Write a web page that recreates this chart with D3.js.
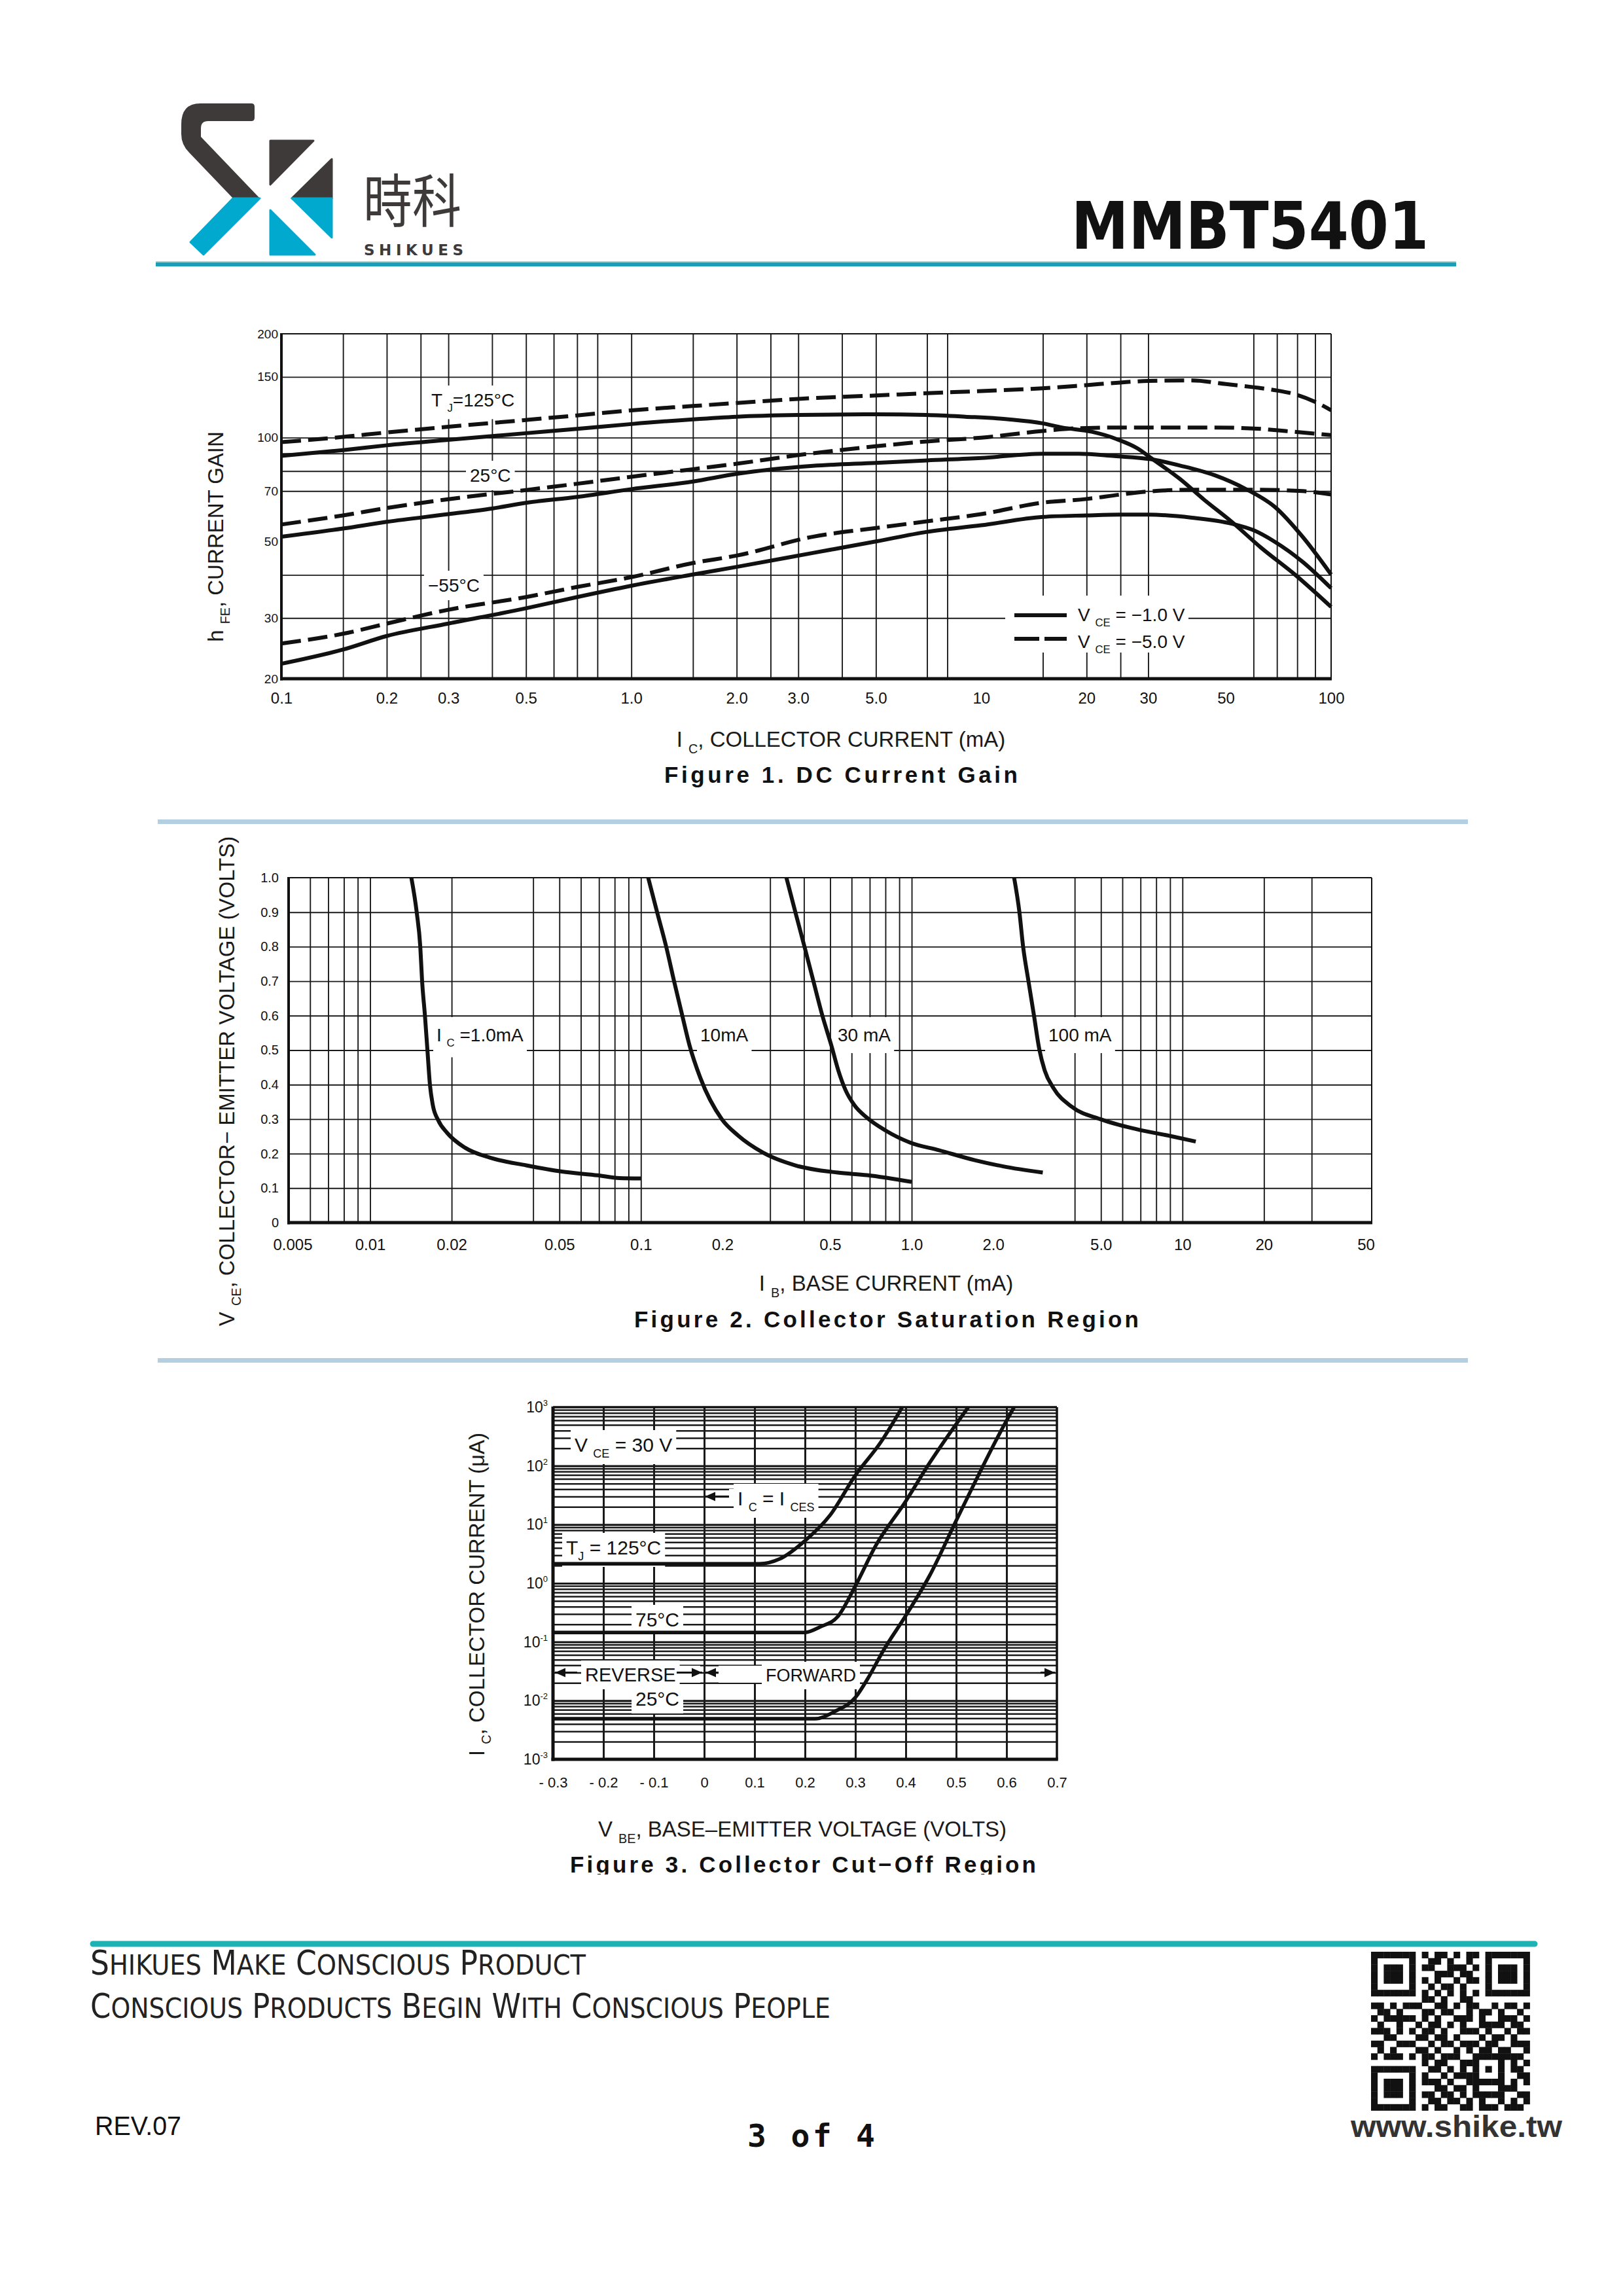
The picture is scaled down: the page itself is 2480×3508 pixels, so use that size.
<!DOCTYPE html>
<html><head><meta charset="utf-8">
<script src="https://cdn.jsdelivr.net/npm/d3@7"></script>
<style>html,body{margin:0;padding:0;background:#fff}svg text{white-space:pre}</style>
</head><body>
<script>
// ===================== DATA =====================
// Figure 1: DC current gain  [Ic (mA), hFE]
const gain125_5V = [[0.1,97],[0.15,100.5],[0.2,103.5],[0.3,107.5],[0.5,112.5],[0.7,116],[1,120],[1.5,123.5],[2,126],[3,129.5],[5,132.5],[7,134.5],[10,136.5],[15,139],[20,142],[25,144.5],[30,146],[40,146.5],[50,143],[60,140],[70,137],[80,133],[90,127],[100,120]];
const gain125_1V = [[0.1,88.5],[0.15,92],[0.2,95],[0.3,98.5],[0.5,103],[0.7,106],[1,109.5],[1.5,113],[2,115],[3,116.3],[5,116.8],[7,116.3],[9,115],[12,113],[15,110],[17,107],[20.7,104],[24.4,99],[28,93],[30.7,87],[36.9,76],[43.4,66],[52,57],[63,48],[79,40],[100,32.3]];
const gain25_5V = [[0.1,56],[0.15,59.5],[0.2,62.5],[0.3,66.3],[0.5,70.5],[0.7,73.5],[1,77],[1.5,81],[2,84],[3,89],[5,94.4],[7,97.5],[10,100],[15,104.5],[19,106.5],[25,107],[33,107],[46,107],[60,106.3],[74,104.5],[100,101.7]];
const gain25_1V = [[0.1,51.6],[0.15,54.5],[0.2,57],[0.3,60],[0.4,62.3],[0.5,64.7],[0.7,67.3],[1,70.9],[1.5,74.6],[2,78.5],[3.3,82.8],[5,84.5],[7,85.9],[10,87.3],[15,89.8],[19,89.8],[24,88.4],[30.5,86.6],[37,83],[46.5,77.8],[57,71],[69,63],[83,51.5],[100,40.1]];
const gainM55_5V = [[0.1,25.3],[0.15,27],[0.2,28.9],[0.3,31.7],[0.5,34.5],[0.7,36.9],[1,39.4],[1.5,43.3],[2,45.5],[3.3,51.6],[5,54.7],[7,57.2],[10,60],[15,64.8],[20,66.4],[25,68.4],[30,69.8],[40,70.6],[60,70.6],[83,70],[100,68.4]];
const gainM55_1V = [[0.1,22.1],[0.15,24.3],[0.2,26.6],[0.3,28.9],[0.5,32],[0.7,34.5],[1,37.2],[1.5,40.1],[2,42.2],[3.3,46.3],[5,50],[7,53.3],[10,55.7],[15,58.9],[20,59.5],[25,59.8],[30,59.8],[40,58.6],[52,56.3],[60,53.9],[69,49.9],[83,43.6],[100,36.6]];
const fig1TickX = [0.1,0.2,0.3,0.5,1,2,3,5,10,20,30,50,100];
const fig1TickXLabels = ["0.1","0.2","0.3","0.5","1.0","2.0","3.0","5.0","10","20","30","50","100"];
const fig1TickY = [20,30,50,70,100,150,200];
const fig1GridX = [0.15,0.2,0.25,0.3,0.4,0.5,0.6,0.7,0.8,1,1.5,2,2.5,3,4,5,7,8,15,20,25,30,60,70,80,90];
const fig1GridY = [30,40,70,80,90,100,150];

// Figure 2: collector saturation region [Ib (mA), Vce (V)]
const vce1mA = [[0.0142,1.0],[0.01486,0.9],[0.01532,0.8],[0.01556,0.7],[0.01594,0.6],[0.01628,0.5],[0.01663,0.4],[0.01705,0.34],[0.01784,0.297],[0.01926,0.26],[0.02243,0.217],[0.02777,0.188],[0.03771,0.166],[0.0511,0.148],[0.0694,0.137],[0.0834,0.129],[0.1,0.128]];
const vce10mA = [[0.1064,1.0],[0.1148,0.9],[0.124,0.8],[0.1326,0.7],[0.1422,0.6],[0.1512,0.514],[0.1657,0.42],[0.199,0.30],[0.2283,0.253],[0.2827,0.203],[0.372,0.166],[0.533,0.145],[0.684,0.1375],[1.0,0.118]];
const vce30mA = [[0.3447,1.0],[0.372,0.9],[0.402,0.8],[0.4336,0.7],[0.468,0.6],[0.505,0.514],[0.536,0.441],[0.57,0.384],[0.615,0.34],[0.684,0.304],[0.797,0.268],[0.987,0.232],[1.26,0.21],[1.71,0.181],[2.18,0.163],[3.05,0.145]];
const vce100mA = [[2.39,1.0],[2.5,0.9],[2.58,0.8],[2.7,0.7],[2.83,0.6],[2.96,0.503],[3.10,0.441],[3.34,0.39],[3.90,0.336],[4.97,0.30],[6.75,0.271],[9.16,0.25],[11.2,0.235]];
const fig2TickX = [0.005,0.01,0.02,0.05,0.1,0.2,0.5,1,2,5,10,20,50];
const fig2TickXLabels = ["0.005","0.01","0.02","0.05","0.1","0.2","0.5","1.0","2.0","5.0","10","20","50"];
const fig2TickY = [0,0.1,0.2,0.3,0.4,0.5,0.6,0.7,0.8,0.9,1.0];
const fig2TickYLabels = ["0","0.1","0.2","0.3","0.4","0.5","0.6","0.7","0.8","0.9","1.0"];
const fig2GridX = [0.006,0.007,0.008,0.009,0.01,0.02,0.04,0.05,0.06,0.07,0.08,0.09,0.1,0.3,0.4,0.5,0.6,0.7,0.8,0.9,1,4,5,6,7,8,9,10,20,30];
const fig2GridY = [0.1,0.2,0.3,0.4,0.5,0.6,0.7,0.8,0.9];

// Figure 3: collector cut-off region [Vbe (V), Ic (uA)]
const ic125 = [[-0.3,2.15],[0.11,2.15],[0.15,2.6],[0.2,5.3],[0.25,14.5],[0.3,69],[0.35,250],[0.393,1000]];
const ic75 = [[-0.3,0.145],[0.2,0.145],[0.23,0.18],[0.265,0.27],[0.3,0.9],[0.34,4.3],[0.4,25],[0.447,111],[0.524,1000]];
const ic25 = [[-0.3,0.0049],[0.22,0.0049],[0.26,0.0066],[0.3,0.0113],[0.325,0.024],[0.355,0.07],[0.4,0.28],[0.447,1.33],[0.5,11.6],[0.6,590],[0.615,1000]];
const fig3TickX = [-0.3,-0.2,-0.1,0,0.1,0.2,0.3,0.4,0.5,0.6,0.7];
const fig3TickXLabels = ["- 0.3","- 0.2","- 0.1","0","0.1","0.2","0.3","0.4","0.5","0.6","0.7"];
const fig3TickY = [1e-3,1e-2,1e-1,1,10,100,1000];
const fig3TickYExp = ["-3","-2","-1","0","1","2","3"];
const fig3GridX = [-0.2,-0.1,0,0.1,0.2,0.3,0.4,0.5,0.6];
const fig3Mantissas = [1,2,3,4,5,6,7,8,9];
const fig3Decades = [-3,-2,-1,0,1,2];

// ===================== SETUP =====================
const W=2480,H=3508;
const svg=d3.select('body').append('svg').attr('width',W).attr('height',H).attr('viewBox',`0 0 ${W} ${H}`);
svg.append('rect').attr('width',W).attr('height',H).attr('fill','#fff');
const SANS="'Liberation Sans',Arial,Helvetica,sans-serif";
const NARROW="'Liberation Sans Narrow','Arial Narrow','Liberation Sans',sans-serif";
const INK='#111';

function rich(g,x,y,parts,o){
  const fs=o.size;
  const t=g.append('text').attr('x',x).attr('y',y).attr('font-family',o.family||SANS)
    .attr('font-size',fs).attr('fill',o.fill||INK).attr('text-anchor',o.anchor||'start');
  if(o.weight) t.attr('font-weight',o.weight);
  let shift=0;
  parts.forEach(p=>{
    const s=Array.isArray(p)?p[0]:p, k=Array.isArray(p)?p[1]:'n';
    const target = k==='sub'? fs*0.3 : (k==='sup'? -fs*0.45 : 0);
    const ts=t.append('tspan').text(s);
    if(target-shift!==0) ts.attr('dy',target-shift);
    shift=target;
    if(k!=='n') ts.attr('font-size',fs*0.6);
  });
  return t;
}
function boxBehind(boxG,t,px,py){
  const b=t.node().getBBox();
  boxG.append('rect').attr('x',b.x-px).attr('y',b.y-py).attr('width',b.width+2*px).attr('height',b.height+2*py).attr('fill','#fff');
}
function vTitle(x,y,parts,size){
  const g=svg.append('g').attr('transform',`translate(${x},${y}) rotate(-90)`);
  rich(g,0,0,parts,{size:size,anchor:'middle',fill:'#1a1a1a'});
}
function styleAxis(s,family,size){
  s.select('.domain').remove();
  s.attr('font-family',family).attr('font-size',size);
  s.selectAll('text').attr('fill',INK);
}
function gridLines(s,w){
  s.select('.domain').remove();
  s.selectAll('line').attr('stroke','#1a1a1a').attr('stroke-width',w);
}
function frame(g,F,wl,wb,wt,wr){
  g.append('line').attr('x1',F.x0).attr('x2',F.x1).attr('y1',F.y0).attr('y2',F.y0).attr('stroke',INK).attr('stroke-width',wt);
  g.append('line').attr('x1',F.x1).attr('x2',F.x1).attr('y1',F.y0).attr('y2',F.y1).attr('stroke',INK).attr('stroke-width',wr);
  g.append('line').attr('x1',F.x0).attr('x2',F.x0).attr('y1',F.y0-1).attr('y2',F.y1+wb/2).attr('stroke',INK).attr('stroke-width',wl);
  g.append('line').attr('x1',F.x0-wl/2).attr('x2',F.x1+wr/2).attr('y1',F.y1).attr('y2',F.y1).attr('stroke',INK).attr('stroke-width',wb);
}

// ===================== HEADER =====================
const DARK='#3e3a39', BLUE='#00a9cd';
const logo=svg.append('g').attr('stroke-linejoin','round');
logo.append('path').attr('d','M306,158 L384,158 Q389,158 389,163 L389,180 Q389,185 384,185 L318,185 Q307,185 307,196 L307,209 L397,303 L356,303 L289,233 Q277,221 277,205 L277,190 Q277,158 306,158 Z').attr('fill',DARK);
logo.append('path').attr('d','M356,303 L397,303 L311,389 L291,370 Z').attr('fill',BLUE).attr('stroke',BLUE).attr('stroke-width',3);
logo.append('path').attr('d','M413,215 L479,215 L413,282 Z').attr('fill',DARK).attr('stroke',DARK).attr('stroke-width',3);
logo.append('path').attr('d','M507,243 L507,303 L446,303 Z').attr('fill',DARK).attr('stroke',DARK).attr('stroke-width',3);
logo.append('path').attr('d','M446,303 L507,303 L507,363 Z').attr('fill',BLUE).attr('stroke',BLUE).attr('stroke-width',3);
logo.append('path').attr('d','M413,321 L413,389 L481,389 Z').attr('fill',BLUE).attr('stroke',BLUE).attr('stroke-width',3);
svg.append('text').attr('x',555).attr('y',339).attr('font-family',"'Noto Sans CJK TC','Noto Sans CJK SC',sans-serif")
  .attr('font-size',88).attr('font-weight',400).attr('fill',DARK).attr('textLength',150).attr('lengthAdjust','spacingAndGlyphs').text('時科');
svg.append('text').attr('x',556).attr('y',390).attr('font-family',"'DejaVu Sans',sans-serif").attr('font-weight','bold')
  .attr('font-size',23).attr('fill',DARK).attr('textLength',152).attr('lengthAdjust','spacing').text('SHIKUES');
svg.append('text').attr('x',1637).attr('y',380).attr('font-family',"'DejaVu Sans',sans-serif").attr('font-weight','bold')
  .attr('font-size',100).attr('fill',INK).attr('textLength',546).attr('lengthAdjust','spacingAndGlyphs').text('MMBT5401');
svg.append('rect').attr('x',238).attr('y',399).attr('width',1987).attr('height',3).attr('fill','#9ad6e0');
svg.append('rect').attr('x',238).attr('y',401).attr('width',1987).attr('height',6).attr('fill','#1a9fb6');

// separators
svg.append('rect').attr('x',241).attr('y',1252).attr('width',2002).attr('height',7).attr('fill','#b5cfe2');
svg.append('rect').attr('x',241).attr('y',2075).attr('width',2002).attr('height',7).attr('fill','#b5cfe2');

// ===================== FIGURE 1 =====================
{
const F={x0:430,x1:2034,y0:510,y1:1037};
const x=d3.scaleLog().domain([0.1,100]).range([F.x0,F.x1]);
const y=d3.scaleLog().domain([20,200]).range([F.y1,F.y0]);
const g=svg.append('g');
const gGrid=g.append('g'), gBox=g.append('g'), gCurve=g.append('g'), gLab=g.append('g'), gFrame=g.append('g');
gGrid.append('g').attr('transform',`translate(0,${F.y1})`)
  .call(d3.axisBottom(x).tickValues(fig1GridX).tickSize(-(F.y1-F.y0)).tickFormat(''))
  .call(s=>gridLines(s,1.9));
gGrid.append('g').attr('transform',`translate(${F.x0},0)`)
  .call(d3.axisLeft(y).tickValues(fig1GridY).tickSize(-(F.x1-F.x0)).tickFormat(''))
  .call(s=>gridLines(s,1.9));
gLab.append('g').attr('transform',`translate(0,${F.y1})`)
  .call(d3.axisBottom(x).tickValues(fig1TickX).tickFormat((d,i)=>fig1TickXLabels[i]).tickSize(0).tickPadding(21))
  .call(s=>styleAxis(s,NARROW,24));
gLab.append('g').attr('transform',`translate(${F.x0},0)`)
  .call(d3.axisLeft(y).tickValues(fig1TickY).tickFormat(d=>String(d)).tickSize(0).tickPadding(5))
  .call(s=>styleAxis(s,NARROW,19));
// curve labels
const l1=rich(gLab,659,621,['T ',['J','sub'],'=125°C'],{size:28});
const l2=rich(gLab,718,736,['25°C'],{size:28});
const l3=rich(gLab,654,904,['−55°C'],{size:28});
[l1,l2,l3].forEach(t=>boxBehind(gBox,t,6,7));
// legend
gBox.append('rect').attr('x',1536).attr('y',910).attr('width',280).attr('height',87).attr('fill','#fff');
gLab.append('line').attr('x1',1550).attr('x2',1630).attr('y1',940).attr('y2',940).attr('stroke',INK).attr('stroke-width',6);
gLab.append('line').attr('x1',1550).attr('x2',1630).attr('y1',976).attr('y2',976).attr('stroke',INK).attr('stroke-width',6).attr('stroke-dasharray','38 8');
rich(gLab,1647,949,['V ',['CE','sub'],' = −1.0 V'],{size:28});
rich(gLab,1647,990,['V ',['CE','sub'],' = −5.0 V'],{size:28});
// curves
const line=d3.line().x(d=>x(d[0])).y(d=>y(d[1])).curve(d3.curveMonotoneX);
[[gain125_5V,true],[gain125_1V,false],[gain25_5V,true],[gain25_1V,false],[gainM55_5V,true],[gainM55_1V,false]].forEach(([data,dashed])=>{
  gCurve.append('path').attr('d',line(data)).attr('fill','none').attr('stroke',INK).attr('stroke-width',6)
    .attr('stroke-dasharray',dashed?'30 11':null);
});
frame(gFrame,F,4,5,2,2);
rich(svg,1285,1141,['I ',['C','sub'],', COLLECTOR CURRENT (mA)'],{size:33,anchor:'middle',fill:'#1a1a1a'});
vTitle(341,820,['h ',['FE','sub'],', CURRENT GAIN'],33);
svg.append('text').attr('x',1015).attr('y',1196).attr('font-family',SANS).attr('font-weight','bold').attr('font-size',35)
  .attr('fill',INK).attr('textLength',540).attr('lengthAdjust','spacing').text('Figure 1. DC Current Gain');
}

// ===================== FIGURE 2 =====================
{
const F={x0:441,x1:2096,y0:1341,y1:1868};
const x=d3.scaleLog().domain([0.005,50]).range([F.x0,F.x1]);
const y=d3.scaleLinear().domain([0,1]).range([F.y1,F.y0]);
const g=svg.append('g');
const gGrid=g.append('g'), gBox=g.append('g'), gCurve=g.append('g'), gLab=g.append('g'), gFrame=g.append('g');
gGrid.append('g').attr('transform',`translate(0,${F.y1})`)
  .call(d3.axisBottom(x).tickValues(fig2GridX).tickSize(-(F.y1-F.y0)).tickFormat(''))
  .call(s=>gridLines(s,1.9));
gGrid.append('g').attr('transform',`translate(${F.x0},0)`)
  .call(d3.axisLeft(y).tickValues(fig2GridY).tickSize(-(F.x1-F.x0)).tickFormat(''))
  .call(s=>gridLines(s,1.9));
gLab.append('g').attr('transform',`translate(0,${F.y1})`)
  .call(d3.axisBottom(x).tickValues(fig2TickX).tickFormat((d,i)=>fig2TickXLabels[i]).tickSize(0).tickPadding(25))
  .call(s=>styleAxis(s,NARROW,24))
  .call(s=>{s.selectAll('.tick text').attr('dx',(d,i)=>i===0?6:(i===fig2TickX.length-1?-9:0));});
gLab.append('g').attr('transform',`translate(${F.x0},0)`)
  .call(d3.axisLeft(y).tickValues(fig2TickY).tickFormat((d,i)=>fig2TickYLabels[i]).tickSize(0).tickPadding(15))
  .call(s=>styleAxis(s,NARROW,20));
const labs=[
  rich(gLab,667,1591,['I ',['C','sub'],' =1.0mA'],{size:28}),
  rich(gLab,1070,1591,['10mA'],{size:28}),
  rich(gLab,1280,1591,['30 mA'],{size:28}),
  rich(gLab,1602,1591,['100 mA'],{size:28})
];
labs.forEach(t=>boxBehind(gBox,t,5,12));
const line=d3.line().x(d=>x(d[0])).y(d=>y(d[1])).curve(d3.curveMonotoneX);
[vce1mA,vce10mA,vce30mA,vce100mA].forEach(data=>{
  gCurve.append('path').attr('d',line(data)).attr('fill','none').attr('stroke',INK).attr('stroke-width',6).attr('stroke-linecap','butt');
});
frame(gFrame,F,4,5,2,2);
rich(svg,1354,1972,['I ',['B','sub'],', BASE CURRENT (mA)'],{size:33,anchor:'middle',fill:'#1a1a1a'});
vTitle(358,1652,['V ',['CE','sub'],', COLLECTOR− EMITTER VOLTAGE (VOLTS)'],33);
svg.append('text').attr('x',969).attr('y',2028).attr('font-family',SANS).attr('font-weight','bold').attr('font-size',35)
  .attr('fill',INK).attr('textLength',771).attr('lengthAdjust','spacing').text('Figure 2. Collector Saturation Region');
}

// ===================== FIGURE 3 =====================
{
const F={x0:845,x1:1615,y0:2150,y1:2688};
const x=d3.scaleLinear().domain([-0.3,0.7]).range([F.x0,F.x1]);
const y=d3.scaleLog().domain([1e-3,1e3]).range([F.y1,F.y0]);
const g=svg.append('g');
const gGrid=g.append('g'), gBox=g.append('g'), gCurve=g.append('g'), gLab=g.append('g'), gFrame=g.append('g');
const minor=[], major=[];
fig3Decades.forEach(e=>fig3Mantissas.forEach(m=>{const v=m*Math.pow(10,e); if(v>1e-3){(m===1?major:minor).push(v);}}));
gGrid.append('g').attr('transform',`translate(${F.x0},0)`)
  .call(d3.axisLeft(y).tickValues(minor).tickSize(-(F.x1-F.x0)).tickFormat(''))
  .call(s=>gridLines(s,2.5));
gGrid.append('g').attr('transform',`translate(${F.x0},0)`)
  .call(d3.axisLeft(y).tickValues(major).tickSize(-(F.x1-F.x0)).tickFormat(''))
  .call(s=>gridLines(s,3.2));
gGrid.append('g').attr('transform',`translate(0,${F.y1})`)
  .call(d3.axisBottom(x).tickValues(fig3GridX).tickSize(-(F.y1-F.y0)).tickFormat(''))
  .call(s=>gridLines(s,3));
gLab.append('g').attr('transform',`translate(0,${F.y1})`)
  .call(d3.axisBottom(x).tickValues(fig3TickX).tickFormat((d,i)=>fig3TickXLabels[i]).tickSize(0).tickPadding(27))
  .call(s=>styleAxis(s,SANS,22));
gLab.append('g').attr('transform',`translate(${F.x0},0)`)
  .call(d3.axisLeft(y).tickValues(fig3TickY).tickFormat(()=>'').tickSize(0).tickPadding(8))
  .call(s=>styleAxis(s,SANS,23))
  .call(s=>s.selectAll('.tick text').each(function(d,i){
    const t=d3.select(this);
    t.append('tspan').text('10');
    t.append('tspan').attr('font-size',13).attr('dy',-10).text(fig3TickYExp[i]);
  }));
const labs=[
  rich(gLab,878,2218,['V ',['CE','sub'],' = 30 V'],{size:30}),
  rich(gLab,1127,2300,['I ',['C','sub'],' = I ',['CES','sub']],{size:30}),
  rich(gLab,865,2375,['T',['J','sub'],' = 125°C'],{size:30}),
  rich(gLab,971,2485,['75°C'],{size:30}),
  rich(gLab,894,2569,['REVERSE'],{size:29}),
  rich(gLab,1170,2569,['FORWARD'],{size:27,family:NARROW}),
  rich(gLab,971,2606,['25°C'],{size:30})
];
labs.forEach(t=>boxBehind(gBox,t,6,6));
gBox.append('rect').attr('x',1098).attr('y',2545).attr('width',70).attr('height',26).attr('fill','#fff');
gBox.append('rect').attr('x',1034).attr('y',2545).attr('width',36).attr('height',26).attr('fill','#fff');
gBox.append('rect').attr('x',1114).attr('y',2275).attr('width',14).attr('height',26).attr('fill','#fff');
// arrows
function arrow(x1,x2,yy){
  gLab.append('line').attr('x1',x1).attr('x2',x2).attr('y1',yy).attr('y2',yy).attr('stroke',INK).attr('stroke-width',3);
  const dir=Math.sign(x2-x1);
  gLab.append('path').attr('d',`M${x2},${yy} L${x2-dir*16},${yy-7} L${x2-dir*16},${yy+7} Z`).attr('fill',INK);
}
const ay=y(0.03);
arrow(882,848,ay); arrow(1034,1073,ay); arrow(1098,1078,ay); arrow(1590,1612,ay);
arrow(1114,1077,y(30));
const line=d3.line().x(d=>x(d[0])).y(d=>y(d[1])).curve(d3.curveMonotoneX);
[ic125,ic75,ic25].forEach(data=>{
  gCurve.append('path').attr('d',line(data)).attr('fill','none').attr('stroke',INK).attr('stroke-width',5.5);
});
frame(gFrame,F,5,5,3.5,3.5);
rich(svg,1226,2806,['V ',['BE','sub'],', BASE–EMITTER VOLTAGE (VOLTS)'],{size:33,anchor:'middle',fill:'#1a1a1a'});
vTitle(740,2436,['I ',['C','sub'],', COLLECTOR CURRENT (μA)'],33);
svg.append('clipPath').attr('id','capclip').append('rect').attr('x',0).attr('y',2800).attr('width',W).attr('height',64);
svg.append('text').attr('clip-path','url(#capclip)').attr('x',871).attr('y',2861).attr('font-family',SANS).attr('font-weight','bold').attr('font-size',35)
  .attr('fill',INK).attr('textLength',712).attr('lengthAdjust','spacing').text('Figure 3. Collector Cut−Off Region');
}

// ===================== FOOTER =====================
svg.append('line').attr('x1',142).attr('x2',2345).attr('y1',2970).attr('y2',2970).attr('stroke','#1eb2b5').attr('stroke-width',9).attr('stroke-linecap','round');
const FOOT="'Liberation Sans Narrow','DejaVu Sans Condensed',sans-serif";
function smallCaps(xx,yy,str,big,small,len){
  const t=svg.append('text').attr('x',xx).attr('y',yy).attr('font-family',FOOT).attr('fill','#222')
    .attr('textLength',len).attr('lengthAdjust','spacingAndGlyphs');
  str.split(' ').forEach((w,i)=>{
    t.append('tspan').attr('font-size',big).text((i?' ':'')+w[0]);
    t.append('tspan').attr('font-size',small).text(w.slice(1).toUpperCase());
  });
}
smallCaps(138,3017,'Shikues Make Conscious Product',51,43,757);
smallCaps(138,3083,'Conscious Products Begin With Conscious People',51,43,1131);
svg.append('text').attr('x',145).attr('y',3262).attr('font-family',SANS).attr('font-size',40).attr('fill',INK)
  .attr('textLength',132).attr('lengthAdjust','spacingAndGlyphs').text('REV.07');
svg.append('text').attr('x',1142).attr('y',3280).attr('font-family',"'DejaVu Sans Mono',monospace").attr('font-weight','bold').attr('font-size',48).attr('fill',INK)
  .attr('textLength',195).attr('lengthAdjust','spacing').text('3 of 4');
svg.append('text').attr('x',2064).attr('y',3265).attr('font-family',SANS).attr('font-weight','bold').attr('font-size',46).attr('fill','#333')
  .attr('textLength',323).attr('lengthAdjust','spacingAndGlyphs').text('www.shike.tw');
// QR code
const qrRows=[
"1111111010110101101111111","1000001001101001001000001","1011101011001110101011101","1011101000111011001011101",
"1011101010100101101011101","1000001001011010001000001","1111111010101010101111111","0000000011010011000000000",
"1101011100110101100101101","0110100011011001011010010","1011111010100111010011101","0100100101101010011110110",
"1110101011010011101001011","0011000110110100010110100","1100111001011011101100111","0101000110100101011011001",
"1011101011011100110111110","0000000010110011010100101","1111111001101010111110110","1000001010010111100010011",
"1011101011101001101010101","1011101000110110100011100","1011101011011010111110011","1000001001101101010010101",
"1111111010110011011101110"];
const align=["11111","10001","10101","10001","11111"];
const qr=svg.append('g');
const M=9.7, qx=2095, qy=2982;
qrRows.forEach((row,r)=>{
  row.split('').forEach((c,k)=>{
    let v=c;
    if(r>=16&&r<=20&&k>=16&&k<=20) v=align[r-16][k-16];
    if(v==='1') qr.append('rect').attr('x',qx+k*M).attr('y',qy+r*M).attr('width',M+0.4).attr('height',M+0.4).attr('fill','#111');
  });
});
</script>
</body></html>
